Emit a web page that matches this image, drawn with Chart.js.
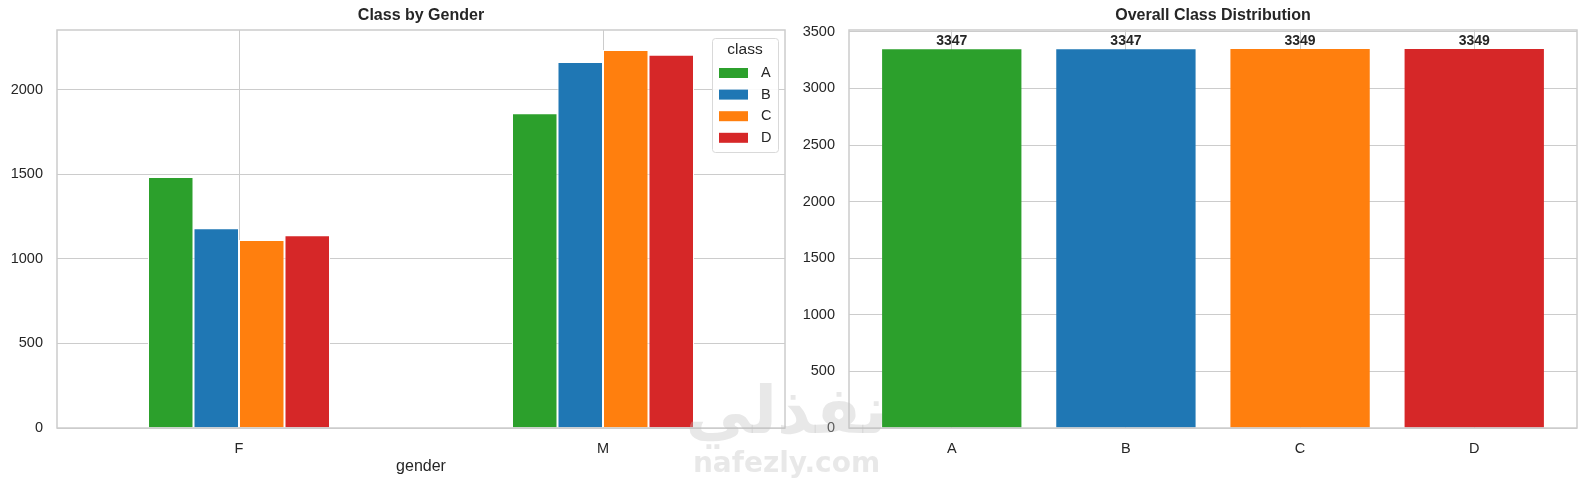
<!DOCTYPE html>
<html>
<head>
<meta charset="utf-8">
<script src="https://cdn.jsdelivr.net/npm/chart.js@4.4.1/dist/chart.umd.min.js"></script>
<style>
  body { margin: 0; background: #fff; width: 1587px; height: 487px; position: relative; overflow: hidden; }
  #left { position: absolute; left: 0; top: 0; }
  #right { position: absolute; left: 795px; top: 0; }
  #wm { position: absolute; left: 684px; top: 376px; width: 205px; text-align: center;
        color: rgba(190,190,190,0.36); font-family: 'DejaVu Sans', sans-serif; font-weight: bold; pointer-events: none; }
  #wm .ar { font-size: 66px; line-height: 70px; }
  #wm .en { font-size: 28px; line-height: 34px; }
</style>
</head>
<body>
<canvas id="left" width="795" height="487"></canvas>
<canvas id="right" width="792" height="487"></canvas>
<div id="wm"><div class="ar">نفذلي</div><div class="en">nafezly.com</div></div>
<script>
// values
const genders = ['F', 'M'];
const classes = ['A', 'B', 'C', 'D'];
const classA = [1485, 1862];
const classB = [1182, 2165];
const classC = [1112, 2237];
const classD = [1140, 2209];
const totals = [3347, 3347, 3349, 3349];
const leftTicks = [0, 500, 1000, 1500, 2000];
const rightTicks = [0, 500, 1000, 1500, 2000, 2500, 3000, 3500];

const FONT = "'Liberation Sans', Arial, sans-serif";
const TEXT = '#262626';
const GRID = '#cccccc';
const palette = ['#2ca02c', '#1f77b4', '#ff7f0e', '#d62728'];
const byClass = [classA, classB, classC, classD];

function tickFont() {
  return { family: FONT, size: 14.5 };
}

function fixedTicks(values) {
  return function (s) { s.ticks = values.map(function (v) { return { value: v }; }); };
}

// frame + title on top of the bars, like the matplotlib spines
function framePlugin(title) {
  return {
    id: 'frame',
    afterDatasetsDraw(chart) {
      const a = chart.chartArea, ctx = chart.ctx;
      ctx.save();
      ctx.strokeStyle = GRID;
      ctx.lineWidth = 1.5;
      ctx.strokeRect(a.left, a.top, a.right - a.left, a.bottom - a.top);
      ctx.fillStyle = TEXT;
      ctx.font = 'bold 16px ' + FONT;
      ctx.textAlign = 'center';
      ctx.textBaseline = 'middle';
      ctx.fillText(title, (a.left + a.right) / 2, 16);
      ctx.restore();
    }
  };
}

const legendBox = {
  id: 'legendBox',
  afterDraw(chart) {
    const ctx = chart.ctx;
    const x = 712, y = 38, w = 66, h = 114;
    ctx.save();
    ctx.fillStyle = 'rgba(255,255,255,0.9)';
    ctx.strokeStyle = '#d9d9d9';
    ctx.lineWidth = 1;
    ctx.beginPath();
    ctx.roundRect(x + 0.5, y + 0.5, w, h, 3);
    ctx.fill();
    ctx.stroke();
    ctx.fillStyle = TEXT;
    ctx.textBaseline = 'middle';
    ctx.textAlign = 'center';
    ctx.font = '15.5px ' + FONT;
    ctx.fillText('class', x + w / 2, y + 12);
    chart.data.datasets.forEach(function (ds, i) {
      const cy = y + 35 + i * 21.6;
      ctx.fillStyle = ds.backgroundColor;
      ctx.fillRect(x + 7, cy - 5, 29, 10);
      ctx.fillStyle = TEXT;
      ctx.font = '14.5px ' + FONT;
      ctx.textAlign = 'left';
      ctx.fillText(ds.label, x + 49, cy);
    });
    ctx.restore();
  }
};

const genderLabel = {
  id: 'genderLabel',
  afterDraw(chart) {
    const a = chart.chartArea, ctx = chart.ctx;
    ctx.save();
    ctx.fillStyle = TEXT;
    ctx.font = '16px ' + FONT;
    ctx.textAlign = 'center';
    ctx.textBaseline = 'middle';
    ctx.fillText('gender', (a.left + a.right) / 2, 467);
    ctx.restore();
  }
};

const barValues = {
  id: 'barValues',
  afterDatasetsDraw(chart) {
    const ctx = chart.ctx;
    const meta = chart.getDatasetMeta(0);
    ctx.save();
    ctx.fillStyle = TEXT;
    ctx.font = 'bold 14px ' + FONT;
    ctx.textAlign = 'center';
    ctx.textBaseline = 'alphabetic';
    meta.data.forEach(function (bar, i) {
      ctx.fillText(String(totals[i]), bar.x, bar.y - 4);
    });
    ctx.restore();
  }
};

new Chart(document.getElementById('left'), {
  type: 'bar',
  data: {
    labels: genders,
    datasets: classes.map(function (c, i) {
      return {
        label: c,
        data: byClass[i],
        backgroundColor: palette[i],
        borderColor: '#ffffff',
        borderWidth: 1,
        categoryPercentage: 0.5,
        barPercentage: 1.0
      };
    })
  },
  options: {
    responsive: false,
    animation: false,
    layout: { padding: { top: 30, right: 10, left: 0, bottom: 0 } },
    plugins: { legend: { display: false }, tooltip: { enabled: false } },
    scales: {
      x: {
        grid: { color: GRID, offset: false, drawTicks: false },
        border: { display: false },
        ticks: { color: TEXT, font: tickFont(), padding: 12 },
        afterFit(s) { s.height = 59; }
      },
      y: {
        min: 0,
        max: 2355,
        afterBuildTicks: fixedTicks(leftTicks),
        grid: { color: GRID, drawTicks: false },
        border: { display: false },
        ticks: { color: TEXT, font: tickFont(), padding: 14, callback: function (v) { return String(v); } },
        afterFit(s) { s.width = 57; }
      }
    }
  },
  plugins: [framePlugin('Class by Gender'), legendBox, genderLabel]
});

new Chart(document.getElementById('right'), {
  type: 'bar',
  data: {
    datasets: [{
      label: 'count',
      data: classes.map(function (c, i) { return { x: i, y: totals[i] }; }),
      backgroundColor: palette,
      borderWidth: 0,
      barPercentage: 0.8,
      categoryPercentage: 1.0
    }]
  },
  options: {
    responsive: false,
    animation: false,
    layout: { padding: { top: 30, right: 10, left: 0, bottom: 0 } },
    plugins: { legend: { display: false }, tooltip: { enabled: false } },
    scales: {
      x: {
        type: 'linear',
        min: -0.59,
        max: 3.59,
        offset: false,
        afterBuildTicks: fixedTicks([0, 1, 2, 3]),
        grid: { color: GRID, offset: false, drawTicks: false },
        border: { display: false },
        ticks: { color: TEXT, font: tickFont(), padding: 12, callback: function (v) { return classes[v]; } },
        afterFit(s) { s.height = 59; }
      },
      y: {
        min: 0,
        max: 3516,
        afterBuildTicks: fixedTicks(rightTicks),
        grid: { color: GRID, drawTicks: false },
        border: { display: false },
        ticks: { color: TEXT, font: tickFont(), padding: 14, callback: function (v) { return String(v); } },
        afterFit(s) { s.width = 54; }
      }
    }
  },
  plugins: [framePlugin('Overall Class Distribution'), barValues]
});
</script>
</body>
</html>
